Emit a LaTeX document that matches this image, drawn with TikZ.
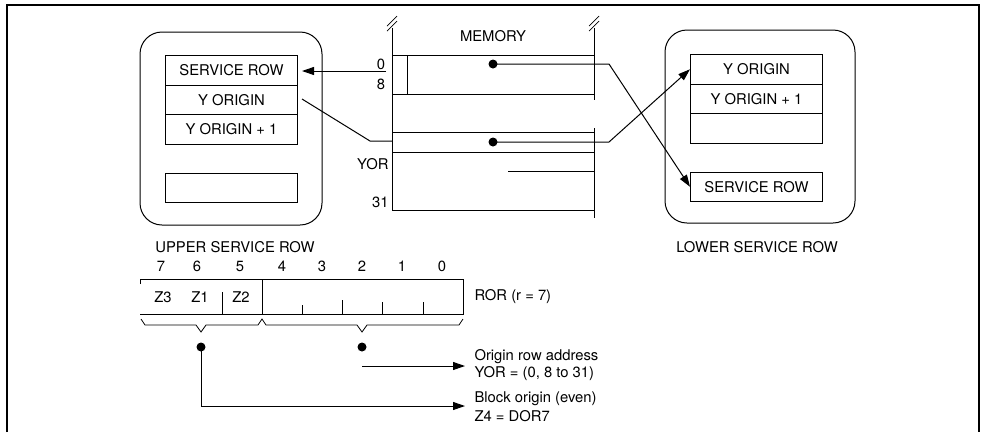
\documentclass[tikz,border=0pt]{standalone}
\usepackage{fontspec}
\setmainfont{TeX Gyre Heros}
\usetikzlibrary{arrows.meta}
\begin{document}
\begin{tikzpicture}[x=1bp,y=-1bp, line width=1bp,
  every node/.style={font=\fontsize{14.8bp}{17bp}\selectfont, inner sep=0},
  rowbox/.style={draw, minimum width=132bp, minimum height=29.5bp, anchor=north west},
  group/.style={rounded corners=22bp},
  dotn/.style={circle, fill, minimum size=9bp},
  arr/.style={-{Triangle[length=12bp,width=8bp]}},
  brk/.style={line width=0.7bp}
]
\useasboundingbox (0,0) rectangle (987,432);
% frame
\draw[line width=1.6bp] (7,432) -- (7,5) -- (979,5) -- (979,432);

% upper service row group
\draw[group] (140,32) rectangle (322,225);
\node[rowbox] (lSR) at (165,55) {SERVICE ROW};
\node[rowbox] (lYO) at (165,84.5) {Y ORIGIN};
\node[rowbox] (lYO1) at (165,114) {Y ORIGIN + 1};
\node[rowbox] (lE) at (165,172.5) {};
\node (lbl1) at (235,247) {UPPER SERVICE ROW};

% lower service row group
\draw[group] (665,30) rectangle (855,223);
\node[rowbox] (rYO) at (690,54) {Y ORIGIN};
\node[rowbox] (rYO1) at (690,83.5) {Y ORIGIN + 1};
\node[rowbox] (rE) at (690,113) {};
\node[rowbox] (rSR) at (690,171.5) {SERVICE ROW};
\node (lbl2) at (757,247) {LOWER SERVICE ROW};

% memory
\node (mem) at (493,36) {MEMORY};
\draw (392,28) -- (392,210);
\draw (594,28) -- (594,100);
\draw (594,128) -- (594,218);
\draw[brk] (387,26) -- (397,16);
\draw[brk] (387,31) -- (397,21);
\draw[brk] (589,26) -- (599,16);
\draw[brk] (589,31) -- (599,21);
\draw (392,55) -- (594,55);
\draw (392,94) -- (594,94);
\draw (407,55) -- (407,94);
\draw (392,132) -- (594,132);
\draw (392,152) -- (594,152);
\draw (508,171) -- (594,171);
\draw (392,210) -- (594,210);
\node (m0) at (381,64) {0};
\node (m8) at (381,84) {8};
\node[anchor=east] (myor) at (389,164) {YOR};
\node[anchor=east] (m31) at (389,202) {31};

\node[dotn] (d1) at (493,64) {};
\node[dotn] (d2) at (493,142) {};
\coordinate (b1) at (609,64);
\coordinate (b2) at (609,142);
\coordinate (mo) at (386,71);
\coordinate (lt) at (302,71);
\coordinate (ys) at (302,99);
\coordinate (yb) at (370,141);
\coordinate (ye) at (392,141);

\draw[arr] (d1.center) -- (b1) -- (rSR.west);
\draw[arr] (d2.center) -- (b2) -- (rYO.west);
\draw[arr] (mo) -- (lt);
\draw (ys) -- (yb) -- (ye);

% bit numbers
\foreach \b/\x in {7/161,6/197,5/240,4/282,3/322,2/362,1/402,0/442}
  \node (bit\b) at (\x,266) {\b};

% register
\draw (140,284) -- (140,279) -- (463,279) -- (463,314) -- (140,314);
\draw (262,279) -- (262,314);
\draw (222,292) -- (222,314);
\draw (302,305) -- (302,314);
\draw (342,300) -- (342,314);
\draw (382,302) -- (382,314);
\draw (423,302) -- (423,314);
\node (z3) at (163,297) {Z3};
\node (z1) at (200,297) {Z1};
\node (z2) at (241,297) {Z2};
\node[anchor=west] (ror) at (474,297) {ROR (r = 7)};

% braces
\draw[line width=0.8bp] (141,319) -- (145,325) -- (196,325) -- (201,332) -- (206,325)
  -- (258,325) -- (262,319) -- (266,325) -- (357,325) -- (362,332) -- (367,325)
  -- (459,325) -- (463,319);

\node[dotn] (e1) at (201,347) {};
\node[dotn] (e2) at (362,347) {};

\node[anchor=west] (t1) at (474,357) {Origin row address};
\node[anchor=west] (t2) at (474,374) {YOR = (0, 8 to 31)};
\node[anchor=west] (t3) at (474,399) {Block origin (even)};
\node[anchor=west] (t4) at (474,416) {Z4 = DOR7};

\coordinate (a1s) at (362,366);
\coordinate (a1e) at (465,366);
\coordinate (c1) at (201,406);
\coordinate (c2) at (465,406);
\draw[arr] (a1s) -- (a1e);
\draw[arr] (e1.center) -- (c1) -- (c2);
\end{tikzpicture}
\end{document}
